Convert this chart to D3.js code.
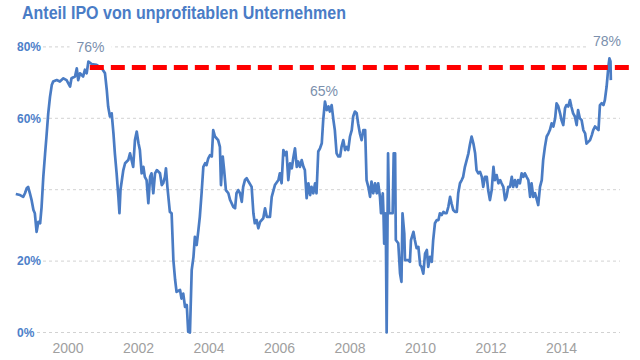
<!DOCTYPE html>
<html><head><meta charset="utf-8">
<script src="https://cdn.jsdelivr.net/npm/d3@7/dist/d3.min.js"></script>
<style>html,body{margin:0;padding:0;background:#fff;}svg{display:block;}</style>
</head><body>
<svg id="c" width="640" height="360"></svg>
<script>
const title = "Anteil IPO von unprofitablen Unternehmen";
const gridTicks = [0, 20, 40, 60, 80];
const yLabels = [0, 20, 60, 80];
const xTicks = [2000, 2002, 2004, 2006, 2008, 2010, 2012, 2014];
const dates = [1998.52,1998.64,1998.73,1998.78,1998.83,1998.87,1998.92,1998.97,1999.02,1999.06,1999.11,1999.16,1999.21,1999.25,1999.30,1999.35,1999.39,1999.44,1999.49,1999.54,1999.58,1999.68,1999.77,1999.87,1999.96,2000.06,2000.10,2000.20,2000.25,2000.29,2000.34,2000.43,2000.48,2000.53,2000.58,2000.67,2000.81,2000.96,2001.05,2001.10,2001.14,2001.19,2001.24,2001.29,2001.33,2001.38,2001.43,2001.46,2001.49,2001.57,2001.62,2001.71,2001.76,
2001.85,2001.90,2001.95,2002.00,2002.04,2002.09,2002.14,2002.18,2002.23,2002.28,2002.33,2002.37,2002.42,2002.47,2002.52,2002.61,2002.66,2002.70,2002.75,2002.78,2002.82,2002.89,2002.94,2002.99,2003.04,2003.08,2003.18,2003.22,2003.27,2003.32,2003.37,2003.41,2003.46,2003.51,2003.56,2003.60,2003.65,2003.70,2003.74,2003.79,2003.84,2003.89,2003.93,2003.98,2004.03,2004.08,2004.12,2004.17,2004.26,2004.31,2004.34,2004.39,2004.43,2004.48,2004.55,2004.60,2004.69,2004.74,2004.78,2004.83,2004.88,2004.93,2004.97,2005.02,2005.07,2005.12,
2005.21,2005.26,2005.30,2005.35,2005.40,2005.45,2005.54,2005.59,2005.64,2005.73,2005.78,2005.87,2005.97,2006.01,2006.06,2006.11,2006.16,2006.20,2006.25,2006.30,2006.35,2006.39,2006.44,2006.49,2006.53,2006.58,2006.63,2006.68,2006.72,2006.77,2006.82,2006.87,2006.91,2006.96,2007.01,2007.05,2007.10,2007.15,2007.20,2007.24,2007.29,2007.34,2007.39,2007.43,2007.48,2007.53,2007.57,2007.62,2007.67,2007.72,2007.76,2007.81,2007.86,2007.91,2007.95,2008.00,2008.05,2008.09,2008.14,2008.19,2008.23,2008.28,2008.33,2008.38,2008.43,2008.47,2008.52,2008.57,2008.61,2008.66,
2008.71,2008.76,2008.80,2008.85,2008.88,2008.93,2008.95,2008.97,2009.00,2009.02,2009.04,2009.06,2009.08,2009.11,2009.21,2009.24,2009.28,2009.30,2009.37,2009.42,2009.46,2009.49,2009.54,2009.56,2009.65,2009.70,2009.73,2009.80,2009.84,2009.89,2009.94,2009.99,2010.03,2010.08,2010.13,2010.18,2010.22,2010.27,2010.32,2010.36,2010.41,2010.46,2010.51,2010.55,2010.60,2010.65,2010.70,2010.74,2010.79,2010.84,2010.88,2010.93,2010.98,2011.03,2011.07,2011.12,2011.17,2011.21,2011.26,2011.31,2011.36,2011.40,2011.45,2011.50,2011.55,2011.59,2011.64,2011.69,2011.74,2011.78,2011.83,2011.88,2011.92,2011.97,
2012.02,2012.07,2012.11,2012.16,2012.21,2012.26,2012.30,2012.35,2012.40,2012.44,2012.49,2012.54,2012.59,2012.63,2012.68,2012.73,2012.77,2012.82,2012.87,2012.92,2012.96,2013.01,2013.06,2013.11,2013.15,2013.20,2013.25,2013.29,2013.34,2013.39,2013.44,2013.48,2013.53,2013.58,2013.63,2013.67,2013.72,2013.77,2013.82,2013.86,2013.91,2013.96,2014.00,2014.05,2014.10,2014.14,2014.19,2014.24,2014.28,2014.33,2014.38,2014.43,2014.47,2014.52,2014.57,2014.62,2014.67,2014.71,2014.76,2014.81,2014.86,2014.90,2014.95,2015.00,2015.05,2015.09,2015.14,2015.19,2015.23,2015.28,2015.33,2015.36,2015.39,2015.40];
const values = [38.8,38.5,38,39,40.4,40.8,39,37,34.3,33.4,28.2,31,30.6,35,43.6,50,54.9,61.4,66,69.3,70.3,70.7,70.3,71.2,70.7,68.9,71.2,71.7,74,70.7,72.6,71.7,73.6,72.6,75.9,75.2,75,74,72.6,68,63.3,60.5,61.4,55.8,50.2,44.6,38,33.4,40,45.5,47.4,48.3,50.2,
46.4,53.9,56.3,53,51.1,44.6,46.4,43.6,42.7,36.2,43.6,44.6,39,44.6,45.5,44.6,41.3,41.8,43.6,46,40.8,33.8,33.4,20.3,14.7,11.4,11.9,9.5,10.9,7.2,7.7,0.2,0,17.5,21.2,26.8,24.5,28.7,32.4,39,46.4,47.4,46.9,48.8,49.7,49.3,56.7,54.9,53.9,52,41.3,49.3,45.5,39.9,39,37.1,35.2,34.8,39,39.9,39,36.6,40.8,42.7,43.2,42.3,
40.8,33.4,30.6,31.5,29.2,31,32,34.8,32.4,32.4,38,41.3,42.7,44.6,41.8,51.1,49.7,50.6,42.7,47.4,46,48.8,51.6,46.4,47.9,46.4,48.3,46.4,45.5,37.6,41.8,38.5,40.8,39,41.8,39,50.7,51.6,53,59.5,64.7,62.3,63.3,61.9,63.7,59.5,56.7,50.2,49.3,49.3,52,53.9,51.1,52,51.1,54.9,56.7,60.5,61.9,61.4,58.6,55.8,53.9,56.7,56.7,42.7,40.8,38,42.3,39,
41.8,39,41.8,38,33.4,39,33.4,24.9,33.4,25,0,25,50.2,33.4,33.4,50.2,50.2,25.9,25,16.5,14.2,33.4,27.8,20.3,20.3,19.8,25.9,28.2,25.9,23.6,24,18.9,18.4,16.5,22.1,23.1,18.4,21.2,19.8,25.9,30.6,31.5,31.5,33.4,32.9,33.8,33.4,33.4,35.2,38,36.2,34.3,33.8,33.8,39,41.8,42.7,43.6,46.4,48.3,50.2,52.5,54.9,53,50.2,45.5,44.6,45,43.6,40.8,43.6,43.6,39.9,37.1,
39.9,46.4,42.7,44.1,41.8,42.7,41.8,40.8,37.1,38,40.8,40.8,43.6,40.8,42.7,40.8,42.7,41.8,44.6,43.6,44.6,43.6,42.7,38,41.8,38,39,37.6,35.7,40.8,42.7,48.3,52,54.9,55.8,56.7,58.6,57.7,60,64.2,63.3,61.4,59.5,58.1,62.8,63.7,63.3,65.1,63.3,61.4,60.5,58.1,62.3,60,59.5,56.7,55.8,52.9,53.4,53.9,55.3,56.7,57.7,57.2,56.7,63.7,64.2,63.7,65.1,68.9,74.5,76.8,75.9,70.7];
const refValue = 74.2;
const refRange = [2000.62, 2015.95];
const annotations = [
  {label: "76%", date: 2000.64, value: 80},
  {label: "65%", date: 2007.26, value: 67.6},
  {label: "78%", date: 2015.29, value: 81.5}
];

const svg = d3.select("#c");
const x = d3.scaleLinear().domain([1998.5, 2016]).range([15.1, 632]);
const y = d3.scaleLinear().domain([0, 80]).range([332.5, 46.9]);
const font = "Liberation Sans, Arial, sans-serif";

// title
svg.append("text").attr("x", 22).attr("y", 19)
  .attr("font-family", font).attr("font-weight", "bold").attr("font-size", 18)
  .attr("textLength", 324).attr("lengthAdjust", "spacingAndGlyphs")
  .attr("fill", "#4a7cc6").text(title);

// gridlines
svg.append("g").selectAll("line").data(gridTicks).join("line")
  .attr("x1", d => d === 0 ? 37 : 43).attr("x2", 620)
  .attr("y1", d => y(d)).attr("y2", d => y(d))
  .attr("stroke", "#d2d2d2").attr("stroke-width", 1).attr("stroke-dasharray", "3,3");

// y labels
svg.append("g").selectAll("text").data(yLabels).join("text")
  .attr("x", 17).attr("y", d => y(d)).attr("dy", "0.35em")
  .attr("font-family", font).attr("font-weight", "bold").attr("font-size", 12)
  .attr("fill", "#4d80c9").text(d => d + "%");

// x labels
svg.append("g").selectAll("text").data(xTicks).join("text")
  .attr("x", d => x(d)).attr("y", 353).attr("text-anchor", "middle")
  .attr("font-family", font).attr("font-size", 14)
  .attr("fill", "#a0a0a0").text(d => d);

// annotation labels with white backgrounds
const ga = svg.append("g");
annotations.forEach(a => {
  const t = ga.append("text").attr("x", x(a.date)).attr("y", y(a.value)).attr("dy", "0.35em")
    .attr("text-anchor", "middle").attr("font-family", font)
    .attr("font-size", 14).attr("fill", "#7b90ad").text(a.label);
  const b = t.node().getBBox();
  ga.insert("rect", () => t.node()).attr("x", b.x - 7).attr("y", b.y).attr("width", b.width + 14)
    .attr("height", b.height).attr("fill", "#fff");
});

// data line
const pts = dates.map((d, i) => [d, values[i]]);
svg.append("path").datum(pts)
  .attr("d", d3.line().x(d => x(d[0])).y(d => y(d[1])))
  .attr("fill", "none").attr("stroke", "#4a7cc4").attr("stroke-width", 2.7)
  .attr("stroke-linejoin", "round");

// reference line
svg.append("line").attr("x1", x(refRange[0])).attr("x2", x(refRange[1]))
  .attr("y1", y(refValue)).attr("y2", y(refValue))
  .attr("stroke", "#ff0000").attr("stroke-width", 5).attr("stroke-dasharray", "14,7");
</script>
</body></html>
